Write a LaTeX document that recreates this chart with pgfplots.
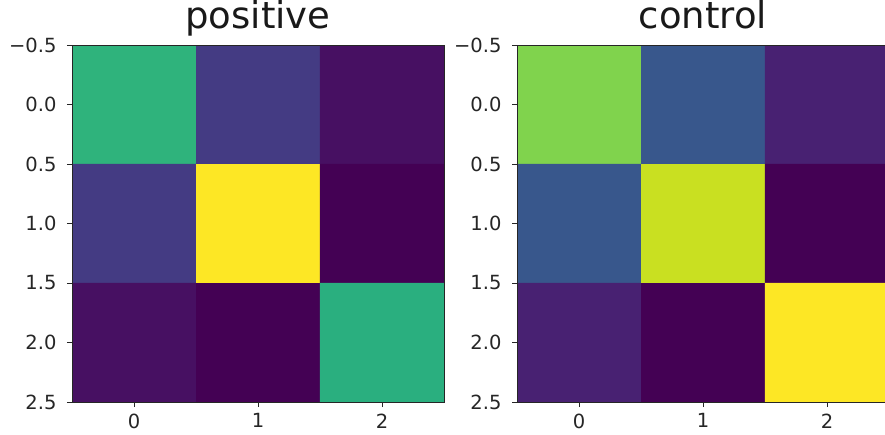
\documentclass[border=0pt]{standalone}
\usepackage{pgfplots}
\pgfplotsset{compat=1.18}
\usepackage{fontspec}
\setmainfont{DejaVu Sans}
\begin{document}
\begin{tikzpicture}
\pgfplotsset{
  hm/.style={
    scale only axis, width=372pt, height=357pt,
    anchor=south west,
    xmin=-0.5, xmax=2.5, ymin=-0.5, ymax=2.5,
    y dir=reverse,
    axis on top,
    colormap/viridis, point meta min=0, point meta max=1,
    xtick={0,1,2}, xticklabels={0,1,2},
    ytick={-0.5,0,0.5,1,1.5,2,2.5},
    yticklabels={−0.5,0.0,0.5,1.0,1.5,2.0,2.5},
    xtick pos=bottom, ytick pos=left, tick align=outside,
    major tick length=5pt,
    every tick/.style={line width=0.9pt, color=black!85},
    axis line style={line width=0.9pt, color=black!85},
    tick label style={font=\fontsize{19.5}{22}\selectfont, color=black!85},
    yticklabel style={xshift=-7pt},
    xticklabel style={yshift=-3pt},
    title style={font=\fontsize{37}{42}\selectfont, color=black!90,
      at={(0.5,1)}, anchor=base, yshift=11pt, inner sep=0pt},
  }
}
\begin{axis}[hm, at={(72pt,32pt)}, title={positive}]
\addplot[matrix plot*, mesh/cols=3, point meta=explicit] table[meta=c] {
x y c
0 0 0.65
1 0 0.17
2 0 0.04
0 1 0.17
1 1 1.0
2 1 0.0
0 2 0.04
1 2 0.0
2 2 0.63
};
\end{axis}
\begin{axis}[hm, at={(517pt,32pt)}, title={control}]
\addplot[matrix plot*, mesh/cols=3, point meta=explicit] table[meta=c] {
x y c
0 0 0.81
1 0 0.27
2 0 0.09
0 1 0.27
1 1 0.92
2 1 0.0
0 2 0.09
1 2 0.0
2 2 1.0
};
\end{axis}
\pgfresetboundingbox
\clip (0pt,0pt) rectangle (885pt,434pt);
\useasboundingbox (0pt,0pt) rectangle (885pt,434pt);
\end{tikzpicture}
\end{document}
